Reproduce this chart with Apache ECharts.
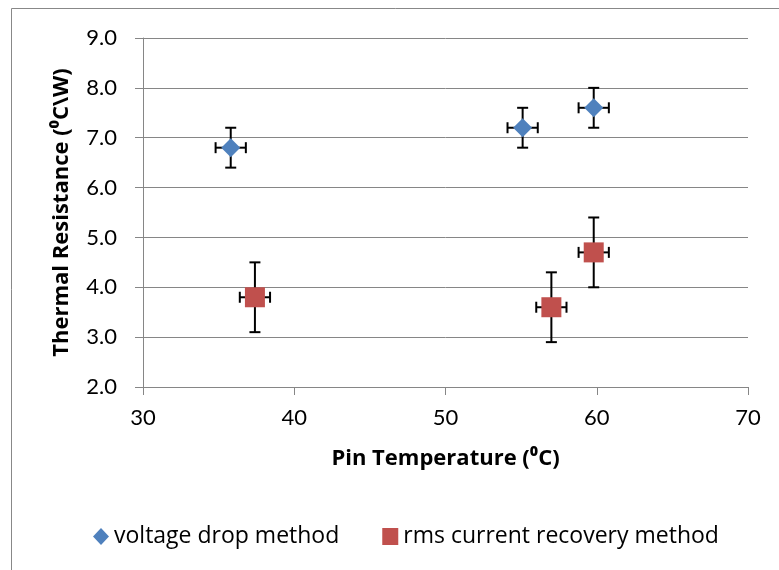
<!DOCTYPE html>
<html>
<head>
<meta charset="utf-8">
<script src="https://cdn.jsdelivr.net/npm/echarts@6/dist/echarts.min.js"></script>
<style>
	html, body { margin: 0; padding: 0; background: #fff; }
	#chart { width: 779px; height: 570px; }
</style>
</head>
<body>
<div id="chart"></div>
<script>
// pin temperature (x), thermal resistance (y) and error sizes
var voltageX = [35.8, 55.1, 59.8];
var voltageY = [6.8, 7.2, 7.6];
var voltageXErr = [1, 1, 1];
var voltageYErr = [0.4, 0.4, 0.4];

var rmsX = [37.4, 57.0, 59.8];
var rmsY = [3.8, 3.6, 4.7];
var rmsXErr = [1, 1, 1];
var rmsYErr = [0.7, 0.7, 0.7];

var xTicks = [30, 40, 50, 60, 70];
var yTicks = [2, 3, 4, 5, 6, 7, 8, 9];

var seriesNames = ['voltage drop method', 'rms current recovery method'];

var FONT = 'Lato, "Open Sans", sans-serif';
var TITLE_FONT = '"Open Sans", Lato, sans-serif';

function pairs(xs, ys) {
	var out = [];
	for (var i = 0; i < xs.length; i++) {
		out.push([xs[i], ys[i]]);
	}
	return out;
}

function errRows(xs, ys, xe, ye) {
	var out = [];
	for (var i = 0; i < xs.length; i++) {
		out.push([xs[i], ys[i], xe[i], ye[i]]);
	}
	return out;
}

// error bars drawn through the axes' own coordinates
function renderErr(params, api) {
	var x = api.value(0), y = api.value(1);
	var dx = api.value(2), dy = api.value(3);
	var c = api.coord([x, y]);
	var top = api.coord([x, y + dy]);
	var bot = api.coord([x, y - dy]);
	var lft = api.coord([x - dx, y]);
	var rgt = api.coord([x + dx, y]);
	var cap = 5.5;
	var st = { stroke: '#000', lineWidth: 2 };
	function ln(x1, y1, x2, y2) {
		return { type: 'line', shape: { x1: x1, y1: y1, x2: x2, y2: y2 }, style: st };
	}
	return {
		type: 'group',
		children: [
			ln(c[0], top[1], c[0], bot[1]),
			ln(c[0] - cap, top[1], c[0] + cap, top[1]),
			ln(c[0] - cap, bot[1], c[0] + cap, bot[1]),
			ln(lft[0], c[1], rgt[0], c[1]),
			ln(lft[0], c[1] - cap, lft[0], c[1] + cap),
			ln(rgt[0], c[1] - cap, rgt[0], c[1] + cap)
		]
	};
}

var myChart = echarts.init(document.getElementById('chart'));

var option = {
	backgroundColor: '#fff',
	animation: false,
	graphic: [{
		type: 'rect',
		shape: { x: 11.5, y: 8.5, width: 820, height: 620 },
		style: { fill: 'none', stroke: '#888', lineWidth: 1 },
		silent: true,
		z: -1
	}],
	grid: {
		left: 143,
		right: 31,
		top: 38,
		bottom: 183
	},
	legend: {
		left: 88,
		top: 520,
		itemGap: 43,
		itemWidth: 16,
		itemHeight: 17,
		textStyle: { fontFamily: TITLE_FONT, fontSize: 23, color: '#000' },
		data: [
			{ name: seriesNames[0], icon: 'diamond' },
			{ name: seriesNames[1], icon: 'rect' }
		]
	},
	xAxis: {
		type: 'value',
		min: xTicks[0],
		max: xTicks[xTicks.length - 1],
		interval: 10,
		name: 'Pin Temperature (⁰C)',
		nameLocation: 'middle',
		nameGap: 61,
		nameTextStyle: { fontFamily: TITLE_FONT, fontSize: 22, fontWeight: 'bold', color: '#000' },
		axisLine: { show: true, onZero: false, lineStyle: { color: '#868686', width: 1 } },
		axisTick: { show: true, inside: false, length: 8, lineStyle: { color: '#868686' } },
		axisLabel: { fontFamily: FONT, fontSize: 22, color: '#000', margin: 20 },
		splitLine: { show: false }
	},
	yAxis: {
		type: 'value',
		min: yTicks[0],
		max: yTicks[yTicks.length - 1],
		interval: 1,
		name: 'Thermal Resistance (⁰C\\W)',
		nameLocation: 'middle',
		nameGap: 70,
		nameTextStyle: { fontFamily: TITLE_FONT, fontSize: 22, fontWeight: 'bold', color: '#000' },
		axisLine: { show: true, lineStyle: { color: '#868686', width: 1 } },
		axisTick: { show: true, inside: false, length: 8, lineStyle: { color: '#868686' } },
		axisLabel: {
			fontFamily: FONT, fontSize: 22, color: '#000', margin: 26,
			formatter: function (v) { return v.toFixed(1); }
		},
		splitLine: { show: true, lineStyle: { color: '#868686', width: 1 } }
	},
	series: [{
		type: 'custom',
		renderItem: renderErr,
		data: errRows(voltageX, voltageY, voltageXErr, voltageYErr),
		z: 1,
		silent: true
	}, {
		type: 'custom',
		renderItem: renderErr,
		data: errRows(rmsX, rmsY, rmsXErr, rmsYErr),
		z: 1,
		silent: true
	}, {
		name: seriesNames[0],
		type: 'scatter',
		symbol: 'diamond',
		symbolSize: 19,
		itemStyle: { color: '#4F81BD', opacity: 1 },
		data: pairs(voltageX, voltageY),
		z: 3
	}, {
		name: seriesNames[1],
		type: 'scatter',
		symbol: 'rect',
		symbolSize: 20,
		itemStyle: { color: '#C0504D', opacity: 1 },
		data: pairs(rmsX, rmsY),
		z: 3
	}]
};

myChart.setOption(option);
</script>
</body>
</html>
